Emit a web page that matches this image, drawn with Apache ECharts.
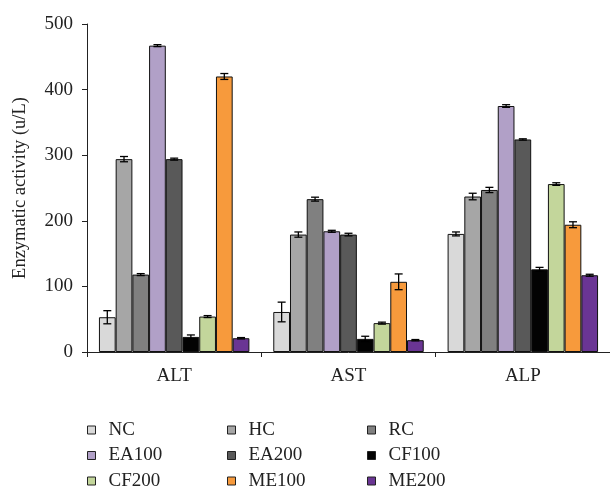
<!DOCTYPE html>
<html><head><meta charset="utf-8">
<script src="https://cdn.jsdelivr.net/npm/echarts@6/dist/echarts.min.js"></script>
<style>html,body{margin:0;padding:0;background:#fff}#c{width:610px;height:489px}</style>
</head><body><div id="c"></div>
<script>
const categories = ['ALT', 'AST', 'ALP'];
const seriesNames = ['NC', 'HC', 'RC', 'EA100', 'EA200', 'CF100', 'CF200', 'ME100', 'ME200'];
const NC    = [53, 61, 180];
const HC    = [294, 179, 237];
const RC    = [118, 233, 247];
const EA100 = [467, 184, 375];
const EA200 = [294, 179, 324];
const CF100 = [23, 20, 126];
const CF200 = [54, 44, 256];
const ME100 = [420, 107, 194];
const ME200 = [21, 18, 117];
const NC_err    = [10, 15, 3];
const HC_err    = [4, 4, 5];
const RC_err    = [1.5, 3, 4];
const EA100_err = [1.5, 1.5, 2];
const EA200_err = [1.5, 2, 1];
const CF100_err = [3, 4, 3];
const CF200_err = [1.5, 1.5, 2];
const ME100_err = [4.5, 12, 4.5];
const ME200_err = [1, 1, 1.5];
const yTicks = [0, 100, 200, 300, 400, 500];

const values = [NC, HC, RC, EA100, EA200, CF100, CF200, ME100, ME200];
const errors = [NC_err, HC_err, RC_err, EA100_err, EA200_err, CF100_err, CF200_err, ME100_err, ME200_err];
const colors = ['#d9d9d9', '#a6a6a6', '#808080', '#b1a0c7', '#595959', '#030303', '#c3d69b', '#f79a3c', '#6a3594'];
const catGap = 0.137;
const font = '"Liberation Serif", "Times New Roman", serif';

const series = [];
seriesNames.forEach((n, i) => {
  series.push({
    name: n, type: 'bar', data: values[i],
    barGap: '0%', barCategoryGap: (catGap * 100) + '%',
    itemStyle: { color: colors[i], borderColor: '#111', borderWidth: 1 },
    z: 2
  });
});
seriesNames.forEach((n, i) => {
  series.push({
    type: 'custom', z: 5, silent: true,
    data: values[i].map((v, k) => [k, v, errors[i][k]]),
    renderItem: function (params, api) {
      const k = api.value(0), v = api.value(1), e = api.value(2);
      const band = api.size([1, 0])[0];
      const bw = band * (1 - catGap) / seriesNames.length;
      const cx = api.coord([k, 0])[0] - band * (1 - catGap) / 2 + (i + 0.5) * bw;
      const yt = api.coord([k, v + e])[1];
      const yb = api.coord([k, v - e])[1];
      const cap = 4;
      const st = { stroke: '#000', lineWidth: 1.3 };
      return { type: 'group', children: [
        { type: 'line', shape: { x1: cx, y1: yt, x2: cx, y2: yb }, style: st },
        { type: 'line', shape: { x1: cx - cap, y1: yt, x2: cx + cap, y2: yt }, style: st },
        { type: 'line', shape: { x1: cx - cap, y1: yb, x2: cx + cap, y2: yb }, style: st }
      ]};
    }
  });
});

// legend layout: 3 columns x 3 rows
const legendOrder = ['NC', 'HC', 'RC', 'EA100', 'EA200', 'CF100', 'CF200', 'ME100', 'ME200'];
const colLeft = [87, 227, 367];
const rowTop = [420, 445.5, 471];
const legends = legendOrder.map((n, idx) => ({
  left: colLeft[idx % 3], top: rowTop[Math.floor(idx / 3)],
  data: [n], itemWidth: 8, itemHeight: 8, padding: 0,
  icon: 'rect',
  itemStyle: { borderColor: '#222', borderWidth: 1 },
  textStyle: { fontFamily: font, fontSize: 19, color: '#222', lineHeight: 20, padding: [0, 0, 0, 8] },
  selectedMode: false
}));

const chart = echarts.init(document.getElementById('c'), null, { renderer: 'canvas' });
chart.setOption({
  animation: false,
  backgroundColor: '#fff',
  grid: { left: 87, right: -2, top: 24, bottom: 137, containLabel: false },
  legend: legends,
  xAxis: {
    type: 'category', data: categories,
    axisLine: { lineStyle: { color: '#222', width: 1 } },
    axisTick: { show: true, alignWithLabel: false, length: 5, lineStyle: { color: '#222' } },
    axisLabel: { fontFamily: font, fontSize: 19, color: '#222', margin: 15 }
  },
  yAxis: {
    type: 'value', min: yTicks[0], max: yTicks[yTicks.length - 1], interval: 100,
    name: 'Enzymatic activity (u/L)', nameLocation: 'middle', nameGap: 57,
    nameTextStyle: { fontFamily: font, fontSize: 18.5, color: '#222' },
    axisLine: { show: true, lineStyle: { color: '#222', width: 1 } },
    axisTick: { show: true, length: 5, lineStyle: { color: '#222' } },
    axisLabel: { fontFamily: font, fontSize: 19, color: '#222', margin: 14 },
    splitLine: { show: false }
  },
  series: series
});
</script></body></html>
